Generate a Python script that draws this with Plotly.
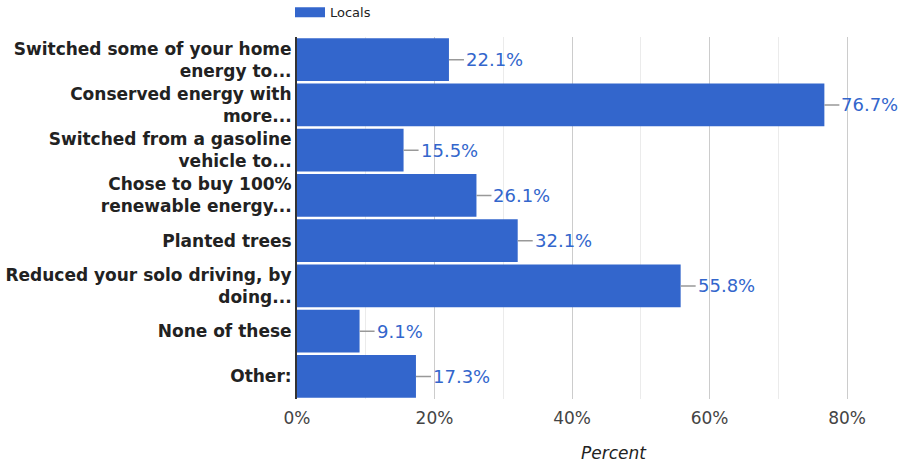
import plotly.graph_objects as go

categories = [
    "Switched some of your home<br>energy to...",
    "Conserved energy with<br>more...",
    "Switched from a gasoline<br>vehicle to...",
    "Chose to buy 100%<br>renewable energy...",
    "Planted trees",
    "Reduced your solo driving, by<br>doing...",
    "None of these",
    "Other:",
]
values = [22.1, 76.7, 15.5, 26.1, 32.1, 55.8, 9.1, 17.3]
tick_vals = [0, 20, 40, 60, 80]
tick_text = ["0%", "20%", "40%", "60%", "80%"]
series_name = "Locals"
axis_title = "Percent"

BLUE = "#3366CC"
FONT = "DejaVu Sans"

fig = go.Figure()
fig.add_trace(go.Bar(
    y=categories, x=values, orientation="h",
    marker=dict(color=BLUE, line=dict(width=0)),
    showlegend=False, hoverinfo="x+y",
))
# legend entry (wide rectangle swatch)
fig.add_trace(go.Scatter(
    x=[None], y=[None], mode="lines", name=series_name,
    line=dict(color=BLUE, width=14), showlegend=True,
))

for c, v in zip(categories, values):
    fig.add_annotation(
        x=v, y=c, text=f"{v}%", showarrow=True, arrowhead=0,
        arrowwidth=1.5, arrowcolor="#999999", ax=15, ay=0,
        xanchor="left", yanchor="middle", standoff=0, startstandoff=0,
        font=dict(family=FONT, size=18, color=BLUE),
    )

# x-axis title
fig.add_annotation(
    x=0.526, y=-0.149, xref="paper", yref="paper", text=f"<i>{axis_title}</i>",
    showarrow=False, xanchor="center", yanchor="middle",
    font=dict(family=FONT, size=17, color="#222222"),
)

fig.update_layout(
    width=914, height=466,
    margin=dict(l=297, r=14, t=37, b=67, autoexpand=False),
    paper_bgcolor="white", plot_bgcolor="white",
    bargap=0.05,
    font=dict(family=FONT, size=17, color="#222222"),
    legend=dict(
        orientation="h", x=-0.0116, xanchor="left", y=1.027, yanchor="bottom",
        font=dict(family=FONT, size=13, color="#222222"),
        bgcolor="rgba(0,0,0,0)",
    ),
    xaxis=dict(
        range=[0, 87.7], tickvals=tick_vals, ticktext=tick_text,
        showgrid=True, gridcolor="#cccccc", gridwidth=1,
        minor=dict(dtick=10, showgrid=True, gridcolor="#ebebeb", gridwidth=1),
        zeroline=False, showline=False, ticks="", ticklabelstandoff=7,
        tickfont=dict(family=FONT, size=17, color="#444444"),
        fixedrange=True, automargin=False,
    ),
    yaxis=dict(
        autorange="reversed", showgrid=False, zeroline=False,
        showline=True, linecolor="#333333", linewidth=2, ticks="",
        tickfont=dict(family=FONT, size=17, color="#222222", weight="bold"),
        fixedrange=True, automargin=False,
    ),
)

fig.write_html(
    "out.html",
    config={"displayModeBar": False},
    post_script="document.body.style.margin='0';document.body.style.padding='0';",
)
